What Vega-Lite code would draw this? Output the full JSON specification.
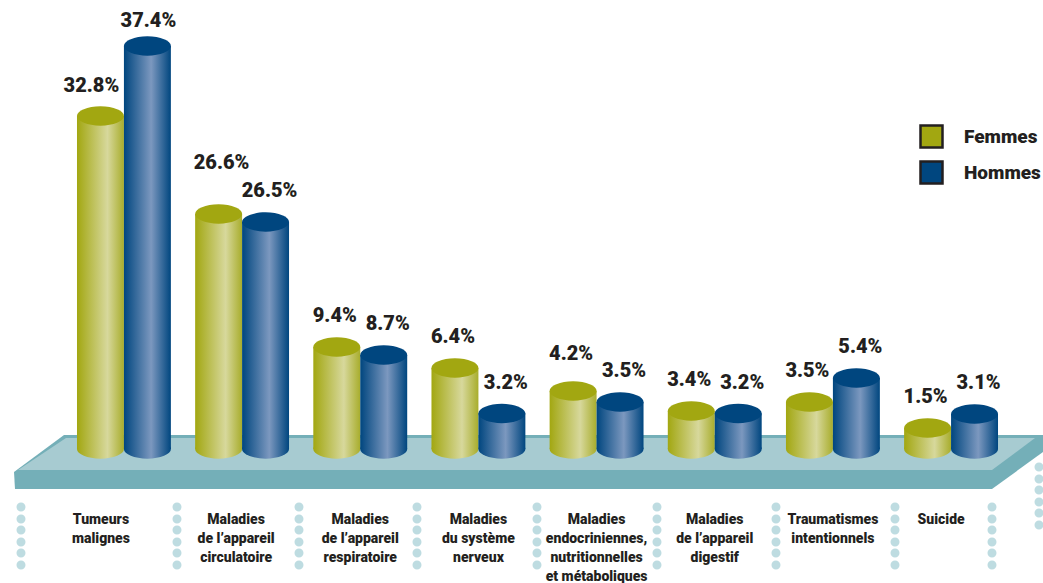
{
  "$schema": "https://vega.github.io/schema/vega-lite/v6.json",
  "autosize": {"type": "none"},
  "padding": 0,
  "width": 1043,
  "height": 583,
  "background": "white",
  "view": {"stroke": null},
  "config": {"text": {"font": "Roboto", "fontWeight": 900}},
  "datasets": {
    "causes": [
      {"cause": "Tumeurs|malignes", "sexe": "Femmes", "valeur": 32.8},
      {"cause": "Tumeurs|malignes", "sexe": "Hommes", "valeur": 37.4},
      {"cause": "Maladies|de l’appareil|circulatoire", "sexe": "Femmes", "valeur": 26.6},
      {"cause": "Maladies|de l’appareil|circulatoire", "sexe": "Hommes", "valeur": 26.5},
      {"cause": "Maladies|de l’appareil|respiratoire", "sexe": "Femmes", "valeur": 9.4},
      {"cause": "Maladies|de l’appareil|respiratoire", "sexe": "Hommes", "valeur": 8.7},
      {"cause": "Maladies|du système|nerveux", "sexe": "Femmes", "valeur": 6.4},
      {"cause": "Maladies|du système|nerveux", "sexe": "Hommes", "valeur": 3.2},
      {"cause": "Maladies|endocriniennes,|nutritionnelles|et métaboliques", "sexe": "Femmes", "valeur": 4.2},
      {"cause": "Maladies|endocriniennes,|nutritionnelles|et métaboliques", "sexe": "Hommes", "valeur": 3.5},
      {"cause": "Maladies|de l’appareil|digestif", "sexe": "Femmes", "valeur": 3.4},
      {"cause": "Maladies|de l’appareil|digestif", "sexe": "Hommes", "valeur": 3.2},
      {"cause": "Traumatismes|intentionnels", "sexe": "Femmes", "valeur": 3.5},
      {"cause": "Traumatismes|intentionnels", "sexe": "Hommes", "valeur": 5.4},
      {"cause": "Suicide", "sexe": "Femmes", "valeur": 1.5},
      {"cause": "Suicide", "sexe": "Hommes", "valeur": 3.1}
    ],
    "socle": [
      {"type": "Feature", "properties": {"face": "ombre"}, "geometry": {"type": "Polygon", "coordinates": [[[14, 472], [64, 435], [1043, 435], [1043, 452], [992, 489], [15, 489], [14, 472]]]}},
      {"type": "Feature", "properties": {"face": "dessus"}, "geometry": {"type": "Polygon", "coordinates": [[[18, 470], [66, 438], [1035, 438], [992, 470], [18, 470]]]}}
    ],
    "separateurs": [
      {"type": "Feature", "geometry": {"type": "MultiPoint", "coordinates": [[21, 507], [21, 519], [21, 530], [21, 542], [21, 553], [21, 565]]}},
      {"type": "Feature", "geometry": {"type": "MultiPoint", "coordinates": [[177, 507], [177, 519], [177, 530], [177, 542], [177, 553], [177, 565]]}},
      {"type": "Feature", "geometry": {"type": "MultiPoint", "coordinates": [[299, 507], [299, 519], [299, 530], [299, 542], [299, 553], [299, 565]]}},
      {"type": "Feature", "geometry": {"type": "MultiPoint", "coordinates": [[417, 507], [417, 519], [417, 530], [417, 542], [417, 553], [417, 565]]}},
      {"type": "Feature", "geometry": {"type": "MultiPoint", "coordinates": [[537, 507], [537, 519], [537, 530], [537, 542], [537, 553], [537, 565]]}},
      {"type": "Feature", "geometry": {"type": "MultiPoint", "coordinates": [[657, 507], [657, 519], [657, 530], [657, 542], [657, 553], [657, 565]]}},
      {"type": "Feature", "geometry": {"type": "MultiPoint", "coordinates": [[776, 507], [776, 519], [776, 530], [776, 542], [776, 553], [776, 565]]}},
      {"type": "Feature", "geometry": {"type": "MultiPoint", "coordinates": [[895, 507], [895, 519], [895, 530], [895, 542], [895, 553], [895, 565]]}},
      {"type": "Feature", "geometry": {"type": "MultiPoint", "coordinates": [[992, 507], [992, 519], [992, 530], [992, 542], [992, 553], [992, 565]]}},
      {"type": "Feature", "geometry": {"type": "MultiPoint", "coordinates": [[1039, 467], [1039, 479], [1039, 490], [1039, 502], [1039, 513], [1039, 525]]}}
    ]
  },
  "layer": [
    {
      "data": {"name": "socle"},
      "transform": [{"filter": "datum.properties.face === 'ombre'"}],
      "projection": {"type": "identity", "scale": 1, "translate": [0, 0]},
      "mark": {"type": "geoshape", "fill": "#74AFB8", "stroke": null}
    },
    {
      "data": {"name": "socle"},
      "transform": [{"filter": "datum.properties.face === 'dessus'"}],
      "projection": {"type": "identity", "scale": 1, "translate": [0, 0]},
      "mark": {"type": "geoshape", "fill": "#A7CBD1", "stroke": null}
    },
    {
      "data": {"name": "separateurs"},
      "projection": {"type": "identity", "scale": 1, "translate": [0, 0]},
      "mark": {"type": "geoshape", "fill": "#BEDCE1", "stroke": null}
    },
    {
      "data": {"name": "causes"},
      "transform": [{"calculate": "format(datum.valeur, '.1f') + '%'", "as": "etiquette"}],
      "encoding": {
        "x": {
          "field": "cause",
          "type": "nominal",
          "sort": null,
          "scale": {"range": [64.85, 1010.15], "paddingInner": 0.2054, "paddingOuter": 0.1027},
          "axis": {
            "title": null,
            "domain": false,
            "ticks": false,
            "offset": -83,
            "labelAngle": 0,
            "labelAlign": "center",
            "labelBaseline": "top",
            "labelPadding": 12,
            "labelFont": "Roboto",
            "labelFontWeight": 900,
            "labelFontSize": 14,
            "labelColor": "#231F20",
            "labelLineHeight": 19,
            "labelLimit": 0,
            "labelOverlap": false,
            "labelFlush": false,
            "labelExpr": "split(datum.label, '|')",
            "labelOffset": {"expr": "indexof(datum.value, 'Tumeurs') === 0 ? -23 : indexof(datum.value, 'circulatoire') > 0 ? -6 : indexof(datum.value, 'Suicide') === 0 ? -10 : 0"}
          }
        },
        "xOffset": {"field": "sexe", "type": "nominal", "scale": {"domain": ["Femmes", "Hommes"], "paddingInner": 0, "paddingOuter": 0}},
        "y": {
          "field": "valeur",
          "type": "quantitative",
          "stack": null,
          "axis": null,
          "scale": {
            "domain": [0, 1.5, 3.1, 3.2, 3.4, 3.5, 4.2, 5.4, 6.4, 8.7, 9.4, 26.5, 26.6, 32.8, 37.4],
            "range": [449, 428, 414, 413.5, 411, 402, 391, 378, 368, 355, 347, 222, 214, 116, 46],
            "nice": false,
            "zero": false
          }
        }
      },
      "layer": [
        {
          "mark": {
            "type": "point",
            "filled": true,
            "opacity": 1,
            "strokeWidth": 0,
            "size": 2209,
            "shape": "M-1,0C-1,-.22 -.55,-.41 0,-.41C.55,-.41 1,-.22 1,0C1,.22 .55,.41 0,.41C-.55,.41 -1,.22 -1,0Z"
          },
          "encoding": {
            "y": {"datum": 0, "type": "quantitative"},
            "fill": {
              "condition": {
                "test": "datum.sexe === 'Femmes'",
                "value": {"gradient": "linear", "x1": 0, "x2": 1, "y1": 0, "y2": 0, "stops": [{"offset": 0, "color": "#A2A711"}, {"offset": 0.65, "color": "#D7D89C"}, {"offset": 1, "color": "#A8AD2C"}]}
              },
              "value": {"gradient": "linear", "x1": 0, "x2": 1, "y1": 0, "y2": 0, "stops": [{"offset": 0, "color": "#00467F"}, {"offset": 0.58, "color": "#7C98BF"}, {"offset": 1, "color": "#00467F"}]}
            }
          }
        },
        {
          "mark": {"type": "bar", "stroke": null},
          "encoding": {
            "y2": {"datum": 0},
            "fill": {
              "condition": {
                "test": "datum.sexe === 'Femmes'",
                "value": {"gradient": "linear", "x1": 0, "x2": 1, "y1": 0, "y2": 0, "stops": [{"offset": 0, "color": "#A2A711"}, {"offset": 0.65, "color": "#D7D89C"}, {"offset": 1, "color": "#A8AD2C"}]}
              },
              "value": {"gradient": "linear", "x1": 0, "x2": 1, "y1": 0, "y2": 0, "stops": [{"offset": 0, "color": "#00467F"}, {"offset": 0.58, "color": "#7C98BF"}, {"offset": 1, "color": "#00467F"}]}
            }
          }
        },
        {
          "mark": {
            "type": "point",
            "filled": true,
            "opacity": 1,
            "strokeWidth": 0,
            "size": 2209,
            "shape": "M-1,0C-1,-.22 -.55,-.41 0,-.41C.55,-.41 1,-.22 1,0C1,.22 .55,.41 0,.41C-.55,.41 -1,.22 -1,0Z"
          },
          "encoding": {
            "color": {
              "field": "sexe",
              "type": "nominal",
              "scale": {"domain": ["Femmes", "Hommes"], "range": ["#A2A711", "#00467F"]},
              "legend": {
                "title": null,
                "orient": "none",
                "legendX": 919,
                "legendY": 124,
                "symbolType": "square",
                "symbolSize": 484,
                "symbolStrokeWidth": 2.5,
                "symbolStrokeColor": "#231F20",
                "symbolOpacity": 1,
                "labelFont": "Roboto",
                "labelFontWeight": 900,
                "labelFontSize": 19,
                "labelColor": "#231F20",
                "labelOffset": 20,
                "labelLimit": 0,
                "rowPadding": 3
              }
            }
          }
        },
        {
          "transform": [{"filter": "datum.sexe === 'Femmes' && datum.valeur !== 32.8 && datum.valeur !== 26.6 && datum.valeur !== 4.2"}],
          "mark": {"type": "text", "fontSize": 20, "color": "#231F20", "dx": -2, "dy": -31, "baseline": "middle"},
          "encoding": {"text": {"field": "etiquette"}}
        },
        {
          "transform": [{"filter": "datum.sexe === 'Hommes' && datum.valeur !== 37.4"}],
          "mark": {"type": "text", "fontSize": 20, "color": "#231F20", "dx": 4, "dy": -31, "baseline": "middle"},
          "encoding": {"text": {"field": "etiquette"}}
        },
        {
          "transform": [{"filter": "datum.valeur === 32.8"}],
          "mark": {"type": "text", "fontSize": 20, "color": "#231F20", "dx": -9, "dy": -30, "baseline": "middle"},
          "encoding": {"text": {"field": "etiquette"}}
        },
        {
          "transform": [{"filter": "datum.valeur === 26.6"}],
          "mark": {"type": "text", "fontSize": 20, "color": "#231F20", "dx": 3, "dy": -51, "baseline": "middle"},
          "encoding": {"text": {"field": "etiquette"}}
        },
        {
          "transform": [{"filter": "datum.valeur === 4.2"}],
          "mark": {"type": "text", "fontSize": 20, "color": "#231F20", "dx": -2, "dy": -37, "baseline": "middle"},
          "encoding": {"text": {"field": "etiquette"}}
        },
        {
          "transform": [{"filter": "datum.valeur === 37.4"}],
          "mark": {"type": "text", "fontSize": 20, "color": "#231F20", "dx": 1, "dy": -25, "baseline": "middle"},
          "encoding": {"text": {"field": "etiquette"}}
        }
      ]
    }
  ]
}
